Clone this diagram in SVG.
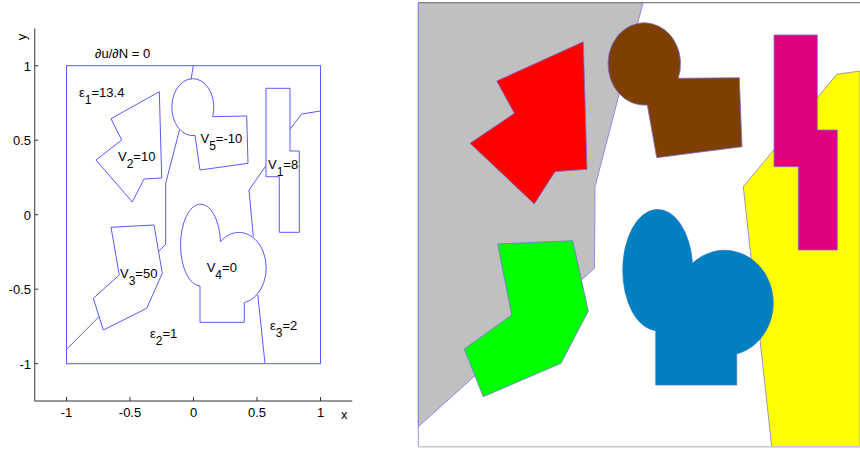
<svg xmlns="http://www.w3.org/2000/svg" width="860" height="451" viewBox="0 0 860 451">
<style>
text{font-family:"Liberation Sans",Arial,sans-serif;font-size:13px;fill:#000}
.sub{font-size:12px}
.ax{stroke:#333;stroke-width:1;fill:none}
.bl{stroke:#5a5aff;stroke-width:1;fill:none}
.sh{stroke:#7a6fd8;stroke-width:0.8}
</style>
<rect x="0" y="0" width="860" height="451" fill="#fff"/>
<g id="left-axes">
<path class="ax" d="M34.75,28.5V401H352.25"/>
<path class="ax" d="M66.5,401v-4M130,401v-4M193.5,401v-4M257,401v-4M320.5,401v-4M34.75,65.7h3.5M34.75,140.2h3.5M34.75,214.7h3.5M34.75,289.2h3.5M34.75,363.7h3.5"/>
<g text-anchor="end">
<text x="31" y="70.5">1</text>
<text x="31" y="145">0.5</text>
<text x="31" y="219.5">0</text>
<text x="31" y="294">-0.5</text>
<text x="31" y="368.5">-1</text>
</g>
<g text-anchor="middle">
<text x="66.5" y="417">-1</text>
<text x="130" y="417">-0.5</text>
<text x="193.5" y="417">0</text>
<text x="257" y="417">0.5</text>
<text x="320.5" y="417">1</text>
</g>
<text x="341" y="419">x</text>
<text transform="translate(26,37) rotate(-90)" text-anchor="middle">y</text>
</g>
<g id="left-domain">
<rect class="bl" x="66.5" y="65.7" width="254" height="298"/>
</g>
<g id="left-connectors">
<path class="bl" d="M193.3,65.7L191,79.6"/>
<path class="bl" d="M179.5,130L165.7,183.3V244.3L158.5,251.7"/>
<path class="bl" d="M99,316.7L66.5,349.3"/>
<path class="bl" d="M320.5,111L301.7,114L290,129.3"/>
<path class="bl" d="M266,165.7L249,190L253.3,236.5"/>
<path class="bl" d="M257.8,295L265,363.7"/>
</g>
<g id="left-V2">
<polygon class="bl" points="159.3,91.7 111,118.7 121.7,140 96,160 132.3,202 144,179 161.7,178"/>
<text x="118" y="160.5">V<tspan class="sub" dy="7">2</tspan><tspan dy="-7">=10</tspan></text>
</g>
<g id="left-V5">
<path class="bl" d="M195,135.5A21,28.5 0 1 1 212.6,116.7L246.7,116L248,163.3L200,170Z"/>
<text x="200.5" y="143.3">V<tspan class="sub" dy="7">5</tspan><tspan dy="-7">=-10</tspan></text>
</g>
<g id="left-V1">
<polygon class="bl" points="266,88.3 290,88.3 290,151 299.3,151 299.3,232.3 279.3,232.3 279.3,176.7 266,176.7"/>
<text x="268" y="169.3">V<tspan class="sub" dy="7">1</tspan><tspan dy="-7">=8</tspan></text>
</g>
<g id="left-V3">
<polygon class="bl" points="111,227.3 154,225 162.3,273.3 146.7,308.3 103.3,330 93.3,298.3 119.3,275"/>
<text x="120" y="278.3">V<tspan class="sub" dy="7">3</tspan><tspan dy="-7">=50</tspan></text>
</g>
<g id="left-V4">
<path class="bl" d="M200,286A20,41 0 1 1 220.5,241.7A27.3,35.5 0 1 1 244.3,302.7V322.3H200Z"/>
<text x="206.7" y="271.7">V<tspan class="sub" dy="7">4</tspan><tspan dy="-7">=0</tspan></text>
</g>
<g id="left-labels">
<text x="95" y="58">∂u/∂N = 0</text>
<text x="79" y="97">ε<tspan class="sub" dy="7">1</tspan><tspan dy="-7">=13.4</tspan></text>
<text x="150" y="338.3">ε<tspan class="sub" dy="7">2</tspan><tspan dy="-7">=1</tspan></text>
<text x="270" y="330">ε<tspan class="sub" dy="7">3</tspan><tspan dy="-7">=2</tspan></text>
</g>
<g id="right-panel">
<g id="right-eps1">
<polygon points="418.3,2.7 643,2.7 595,186.7 594.5,268.3 418.3,426.7" fill="#c0c0c0" stroke="#8c8ce6" stroke-width="1"/>
</g>
<g id="right-eps3">
<polygon points="860,71 836.7,74.3 743.3,186.7 771.7,446.7 860,446.7" fill="#ffff00" stroke="#9a9ab8" stroke-width="1"/>
</g>
<g id="right-V2">
<polygon class="sh" fill="#ff0000" points="583.3,41.7 496.7,81 514.3,113.3 470,143.3 534.3,204 555,171.7 587,169.3"/>
</g>
<g id="right-V5">
<path class="sh" fill="#7f3f00" d="M647.3,105A36.3,41.2 0 1 1 678.3,78.3L739.3,77.7L742,146.7L656.7,157.7Z"/>
</g>
<g id="right-V1">
<polygon class="sh" fill="#e0007f" points="774,35 817.3,35 817.3,130 837.3,130 837.3,250 798.3,250 798.3,166.7 774,166.7"/>
</g>
<g id="right-V3">
<polygon class="sh" fill="#00ff00" stroke="#3f6fb0" points="497.7,244 572.7,240.7 588.3,311 561,363.3 483.3,396.7 464.3,349 511.7,315"/>
</g>
<g id="right-V4">
<path fill="#0080c0" stroke="#2a6ad0" stroke-width="0.6" d="M655.7,330.7A35,60.7 0 1 1 692.5,263.3A48.7,52.7 0 1 1 736.7,354V385H655.7Z"/>
</g>
<path d="M418,2.7H860" stroke="#808080" stroke-width="1.3"/>
<path d="M418.3,2.7V446.7" stroke="#8c8ce6" stroke-width="1"/>
<path d="M418,446.7H860" stroke="#c8c8c8" stroke-width="1.5"/>
</g>
</svg>
